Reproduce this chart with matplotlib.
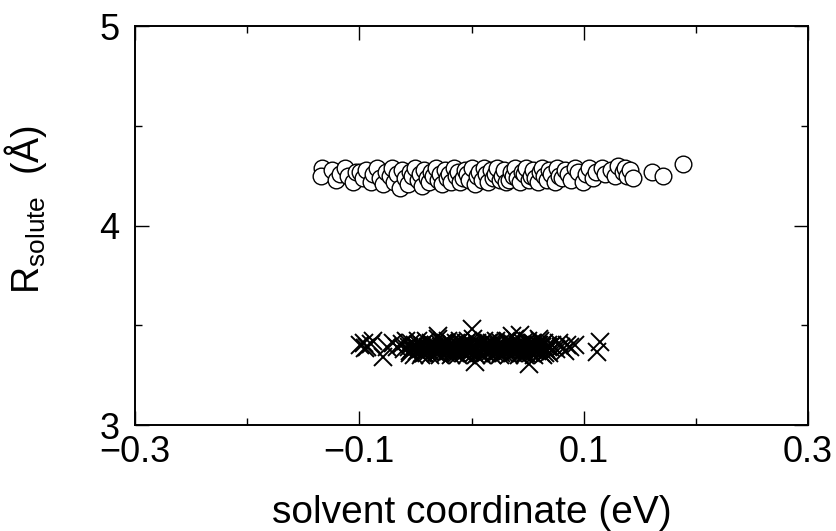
import matplotlib
matplotlib.use("Agg")
import matplotlib.pyplot as plt
from matplotlib.ticker import MultipleLocator, FixedLocator

plt.rcParams['font.family'] = ['Liberation Sans', 'DejaVu Sans']
plt.rcParams['mathtext.fontset'] = 'custom'
plt.rcParams['mathtext.rm'] = 'Liberation Sans'

# open circles (upper band)
circle_x = [
    -0.133, -0.134, -0.124, -0.121, -0.117, -0.113, -0.110, -0.106, -0.103, -0.099,
    -0.097, -0.094, -0.090, -0.088, -0.084, -0.082, -0.079, -0.076, -0.073, -0.071,
    -0.069, -0.066, -0.064, -0.062, -0.059, -0.057, -0.055, -0.053, -0.050, -0.048,
    -0.046, -0.044, -0.042, -0.040, -0.038, -0.036, -0.034, -0.032, -0.030, -0.028,
    -0.026, -0.024, -0.022, -0.020, -0.018, -0.016, -0.014, -0.012, -0.010, -0.008,
    -0.006, -0.004, -0.002, 0.000, 0.003, 0.005, 0.007, 0.009, 0.011, 0.013,
    0.015, 0.017, 0.019, 0.021, 0.023, 0.025, 0.027, 0.029, 0.031, 0.033,
    0.035, 0.037, 0.039, 0.041, 0.043, 0.045, 0.047, 0.049, 0.051, 0.053,
    0.055, 0.057, 0.059, 0.061, 0.063, 0.065, 0.067, 0.069, 0.071, 0.074,
    0.076, 0.078, 0.081, 0.083, 0.086, 0.089, 0.092, 0.095, 0.099, 0.102,
    0.105, 0.108, 0.111, 0.116, 0.119, 0.124, 0.128, 0.131, 0.135, 0.137,
    0.139, 0.141, 0.144, 0.161, 0.171, 0.189,
]
circle_y = [
    4.29, 4.25, 4.28, 4.23, 4.26, 4.29, 4.25, 4.22, 4.27, 4.27,
    4.24, 4.28, 4.22, 4.26, 4.29, 4.24, 4.21, 4.27, 4.25, 4.29,
    4.22, 4.26, 4.19, 4.28, 4.24, 4.21, 4.27, 4.25, 4.29, 4.23,
    4.26, 4.20, 4.28, 4.24, 4.22, 4.27, 4.25, 4.29, 4.23, 4.26,
    4.21, 4.28, 4.24, 4.26, 4.22, 4.29, 4.25, 4.27, 4.22, 4.24,
    4.28, 4.26, 4.23, 4.29, 4.21, 4.25, 4.27, 4.23, 4.29, 4.26,
    4.22, 4.28, 4.24, 4.26, 4.29, 4.23, 4.25, 4.28, 4.22, 4.23,
    4.27, 4.25, 4.29, 4.24, 4.22, 4.27, 4.26, 4.29, 4.23, 4.25,
    4.28, 4.24, 4.22, 4.27, 4.29, 4.25, 4.23, 4.28, 4.26, 4.22,
    4.29, 4.25, 4.24, 4.28, 4.26, 4.23, 4.29, 4.27, 4.22, 4.26,
    4.29, 4.24, 4.27, 4.29, 4.26, 4.28, 4.25, 4.30, 4.27, 4.29,
    4.25, 4.28, 4.24, 4.27, 4.25, 4.31,
]

# crosses (lower band)
cross_x = [
    -0.056, -0.055, -0.054, -0.053, -0.051, -0.050, -0.049, -0.048, -0.047, -0.045,
    -0.044, -0.043, -0.042, -0.041, -0.039, -0.038, -0.037, -0.036, -0.035, -0.034,
    -0.032, -0.031, -0.030, -0.029, -0.028, -0.027, -0.026, -0.025, -0.023, -0.022,
    -0.021, -0.020, -0.019, -0.018, -0.017, -0.016, -0.015, -0.014, -0.013, -0.012,
    -0.011, -0.010, -0.009, -0.008, -0.007, -0.006, -0.005, -0.004, -0.003, -0.002,
    -0.001, 0.000, 0.001, 0.002, 0.003, 0.004, 0.005, 0.006, 0.007, 0.008,
    0.009, 0.010, 0.011, 0.012, 0.013, 0.014, 0.015, 0.016, 0.017, 0.018,
    0.019, 0.020, 0.021, 0.022, 0.023, 0.024, 0.025, 0.026, 0.027, 0.028,
    0.029, 0.030, 0.031, 0.032, 0.033, 0.034, 0.035, 0.036, 0.037, 0.038,
    0.039, 0.040, 0.041, 0.042, 0.043, 0.044, 0.045, 0.046, 0.047, 0.048,
    0.049, 0.050, 0.051, 0.052, 0.053, 0.054, 0.055, 0.056, 0.057, 0.058,
    0.059, 0.060, 0.061, 0.062, 0.063, 0.064, 0.065, 0.066, 0.067, 0.068,
    0.069, 0.070,
    -0.0525, -0.0465, -0.0405, -0.0335, -0.0245, -0.0445, -0.0385, -0.0315, -0.0275, -0.0215,
    -0.0185, -0.0155, -0.0125, -0.0095, -0.0065, -0.0035, -0.0005, 0.0025, 0.0055, 0.0085,
    0.0115, 0.0145, 0.0175, 0.0205, 0.0235, 0.0265, 0.0295, 0.0325, 0.0355, 0.0385,
    0.0415, 0.0445, 0.0475, 0.0505, 0.0535, 0.0565, 0.0595, 0.0625, 0.0655, 0.0685,
    -0.0545, -0.0495, -0.0425, -0.0365, -0.0295, -0.0225, -0.0165, -0.0105, -0.0045, 0.0015,
    0.0065, 0.0125, 0.0185, 0.0245, 0.0305, 0.0365, 0.0425, 0.0485, 0.0545, 0.0605,
    -0.099, -0.096, -0.093, -0.090, -0.095, -0.088, -0.079, -0.075, -0.070, -0.066,
    -0.062, -0.060, -0.058, -0.030, 0.000, 0.003, 0.036, 0.043, 0.051, 0.060,
    0.072, 0.075, 0.078, 0.080, 0.083, 0.085, 0.088, 0.092, 0.112, 0.115,
]
cross_y = [
    3.39, 3.36, 3.41, 3.38, 3.35, 3.40, 3.37, 3.42, 3.38, 3.35,
    3.40, 3.38, 3.36, 3.42, 3.39, 3.37, 3.35, 3.41, 3.38, 3.40,
    3.36, 3.39, 3.43, 3.37, 3.35, 3.40, 3.38, 3.41, 3.36, 3.39,
    3.42, 3.37, 3.38, 3.35, 3.40, 3.39, 3.36, 3.41, 3.38, 3.35,
    3.39, 3.42, 3.37, 3.40, 3.36, 3.38, 3.41, 3.35, 3.39, 3.37,
    3.40, 3.38, 3.43, 3.36, 3.39, 3.35, 3.41, 3.38, 3.37, 3.40,
    3.35, 3.39, 3.42, 3.38, 3.36, 3.40, 3.37, 3.41, 3.39, 3.35,
    3.38, 3.40, 3.36, 3.42, 3.39, 3.37, 3.35, 3.41, 3.38, 3.40,
    3.36, 3.39, 3.42, 3.37, 3.35, 3.40, 3.38, 3.41, 3.36, 3.39,
    3.43, 3.37, 3.38, 3.35, 3.40, 3.39, 3.36, 3.41, 3.38, 3.35,
    3.39, 3.42, 3.37, 3.40, 3.36, 3.38, 3.41, 3.35, 3.39, 3.37,
    3.40, 3.38, 3.42, 3.36, 3.39, 3.35, 3.41, 3.38, 3.37, 3.40,
    3.36, 3.39,
    3.38, 3.40, 3.37, 3.39, 3.41, 3.36, 3.38, 3.40, 3.39, 3.37,
    3.41, 3.38, 3.36, 3.40, 3.39, 3.42, 3.37, 3.38, 3.40, 3.36,
    3.39, 3.41, 3.37, 3.38, 3.40, 3.36, 3.39, 3.42, 3.38, 3.37,
    3.40, 3.38, 3.36, 3.39, 3.41, 3.37, 3.38, 3.40, 3.36, 3.39,
    3.37, 3.39, 3.36, 3.40, 3.38, 3.41, 3.37, 3.39, 3.38, 3.40,
    3.36, 3.39, 3.41, 3.37, 3.38, 3.40, 3.39, 3.36, 3.38, 3.40,
    3.40, 3.41, 3.39, 3.405, 3.385, 3.42, 3.34, 3.39, 3.41, 3.39,
    3.405, 3.38, 3.42, 3.445, 3.48, 3.316, 3.445, 3.45, 3.306, 3.43,
    3.40, 3.38, 3.41, 3.39, 3.37, 3.40, 3.39, 3.40, 3.366, 3.416,
]

fig = plt.figure(figsize=(8.36, 5.31), dpi=100)
ax = fig.add_axes([0.1615, 0.1996, 0.805, 0.7514])

ax.plot(cross_x, cross_y, 'x', color='black', markersize=13, markeredgewidth=1.4)
ax.plot(circle_x, circle_y, 'o', markerfacecolor='white', markeredgecolor='black',
        markersize=12, markeredgewidth=1.0)

ax.set_xlim(-0.3, 0.3)
ax.set_ylim(3, 5)
ax.xaxis.set_major_locator(FixedLocator([-0.3, -0.1, 0.1, 0.3]))
ax.xaxis.set_minor_locator(FixedLocator([-0.2, 0.0, 0.2]))
ax.yaxis.set_major_locator(MultipleLocator(1))
ax.yaxis.set_minor_locator(MultipleLocator(0.5))
ax.set_xticklabels(['\u22120.3', '\u22120.1', '0.1', '0.3'])

ax.tick_params(which='both', direction='in', top=True, right=True, width=1.0, labelsize=26)
ax.tick_params(which='major', length=10)
ax.tick_params(which='minor', length=5)
ax.tick_params(axis='x', pad=7)
ax.tick_params(axis='y', pad=11)
for s in ax.spines.values():
    s.set_linewidth(1.4)

ax.set_xlabel('solvent coordinate (eV)', fontsize=28, labelpad=18)
ax.set_ylabel(r'$\mathregular{R_{solute}}$  (Å)', fontsize=27)
ax.yaxis.set_label_coords(-0.128, 0.54)

fig.savefig('out.png', dpi=100)
